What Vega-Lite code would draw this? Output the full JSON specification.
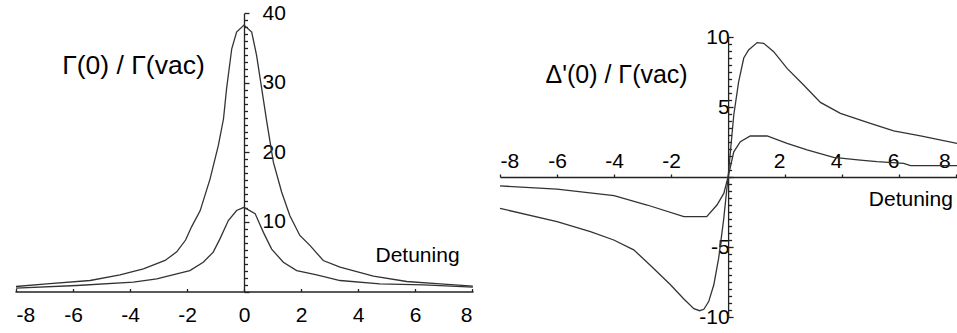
{
  "$schema": "https://vega.github.io/schema/vega-lite/v6.json",
  "width": 957,
  "height": 333,
  "padding": 0,
  "autosize": {"type": "none"},
  "background": "white",
  "config": {
    "view": {"stroke": null},
    "axis": {
      "labelFont": "Liberation Sans",
      "titleFont": "Liberation Sans",
      "labelFontSize": 21,
      "labelColor": "black",
      "titleColor": "black",
      "titleFontWeight": "normal",
      "domainColor": "#222",
      "tickColor": "#222",
      "grid": false,
      "domainWidth": 1.3,
      "tickWidth": 1.3
    }
  },
  "datasets": {
    "gamma": [
      {"s": "upper", "x": -8, "y": 0.72},
      {"s": "upper", "x": -6.92, "y": 1.1},
      {"s": "upper", "x": -5.4, "y": 1.58},
      {"s": "upper", "x": -4.35, "y": 2.4},
      {"s": "upper", "x": -3.53, "y": 3.26},
      {"s": "upper", "x": -2.77, "y": 4.46},
      {"s": "upper", "x": -2.36, "y": 5.7},
      {"s": "upper", "x": -2.05, "y": 7.4},
      {"s": "upper", "x": -1.84, "y": 9.3},
      {"s": "upper", "x": -1.54, "y": 11.6},
      {"s": "upper", "x": -1.19, "y": 16.2},
      {"s": "upper", "x": -0.9, "y": 21},
      {"s": "upper", "x": -0.72, "y": 24.8},
      {"s": "upper", "x": -0.61, "y": 29.2},
      {"s": "upper", "x": -0.43, "y": 34.9},
      {"s": "upper", "x": -0.26, "y": 37.3},
      {"s": "upper", "x": 0, "y": 38.3},
      {"s": "upper", "x": 0.27, "y": 37.3},
      {"s": "upper", "x": 0.44, "y": 34},
      {"s": "upper", "x": 0.62, "y": 29.2},
      {"s": "upper", "x": 0.8, "y": 24.4},
      {"s": "upper", "x": 1.03, "y": 18.6},
      {"s": "upper", "x": 1.32, "y": 14.3},
      {"s": "upper", "x": 1.61, "y": 10.9},
      {"s": "upper", "x": 1.96, "y": 8.06},
      {"s": "upper", "x": 2.32, "y": 6.6},
      {"s": "upper", "x": 2.78, "y": 4.46},
      {"s": "upper", "x": 3.37, "y": 3.5},
      {"s": "upper", "x": 4.54, "y": 2.2},
      {"s": "upper", "x": 5.71, "y": 1.44},
      {"s": "upper", "x": 6.88, "y": 1.1},
      {"s": "upper", "x": 8.03, "y": 0.77},
      {"s": "lower", "x": -8, "y": 0.48},
      {"s": "lower", "x": -5.87, "y": 0.86},
      {"s": "lower", "x": -3.88, "y": 1.34},
      {"s": "lower", "x": -3.06, "y": 1.83},
      {"s": "lower", "x": -2.36, "y": 2.55},
      {"s": "lower", "x": -1.9, "y": 3.0},
      {"s": "lower", "x": -1.43, "y": 4.2},
      {"s": "lower", "x": -1.08, "y": 5.66},
      {"s": "lower", "x": -0.84, "y": 7.6},
      {"s": "lower", "x": -0.55, "y": 10.2},
      {"s": "lower", "x": -0.26, "y": 11.65},
      {"s": "lower", "x": 0, "y": 12.1},
      {"s": "lower", "x": 0.39, "y": 11.2},
      {"s": "lower", "x": 0.68, "y": 8.5},
      {"s": "lower", "x": 0.97, "y": 6.1},
      {"s": "lower", "x": 1.38, "y": 4.2},
      {"s": "lower", "x": 1.85, "y": 3.0},
      {"s": "lower", "x": 2.55, "y": 2.4},
      {"s": "lower", "x": 3.37, "y": 1.58},
      {"s": "lower", "x": 4.77, "y": 1.1},
      {"s": "lower", "x": 6.29, "y": 0.96},
      {"s": "lower", "x": 8.03, "y": 0.62}
    ],
    "shift": [
      {"s": "upper", "x": -8, "y": -2.24},
      {"s": "upper", "x": -6, "y": -3.19},
      {"s": "upper", "x": -4.83, "y": -3.9},
      {"s": "upper", "x": -4.01, "y": -4.5},
      {"s": "upper", "x": -3.31, "y": -5.2},
      {"s": "upper", "x": -2.73, "y": -6.3},
      {"s": "upper", "x": -2.02, "y": -7.7},
      {"s": "upper", "x": -1.56, "y": -8.7},
      {"s": "upper", "x": -1.2, "y": -9.4},
      {"s": "upper", "x": -1.0, "y": -9.55},
      {"s": "upper", "x": -0.85, "y": -9.45},
      {"s": "upper", "x": -0.68, "y": -8.9},
      {"s": "upper", "x": -0.5, "y": -7.7},
      {"s": "upper", "x": -0.33, "y": -5.8},
      {"s": "upper", "x": -0.15, "y": -2.95},
      {"s": "upper", "x": 0, "y": 0},
      {"s": "upper", "x": 0.2, "y": 4.43},
      {"s": "upper", "x": 0.37, "y": 6.8},
      {"s": "upper", "x": 0.55, "y": 8.5},
      {"s": "upper", "x": 0.72, "y": 9.07},
      {"s": "upper", "x": 1.02, "y": 9.6},
      {"s": "upper", "x": 1.25, "y": 9.55},
      {"s": "upper", "x": 1.6, "y": 8.95},
      {"s": "upper", "x": 2.07, "y": 7.76},
      {"s": "upper", "x": 2.65, "y": 6.57},
      {"s": "upper", "x": 3.24, "y": 5.33},
      {"s": "upper", "x": 3.94, "y": 4.55},
      {"s": "upper", "x": 4.99, "y": 3.83},
      {"s": "upper", "x": 5.81, "y": 3.29},
      {"s": "upper", "x": 6.75, "y": 2.93},
      {"s": "upper", "x": 8.03, "y": 2.4},
      {"s": "lower", "x": -8, "y": -0.64},
      {"s": "lower", "x": -6, "y": -0.86},
      {"s": "lower", "x": -4, "y": -1.33},
      {"s": "lower", "x": -2.84, "y": -2.0},
      {"s": "lower", "x": -1.55, "y": -2.83},
      {"s": "lower", "x": -0.75, "y": -2.83},
      {"s": "lower", "x": -0.39, "y": -2.0},
      {"s": "lower", "x": -0.15, "y": -1.17},
      {"s": "lower", "x": 0, "y": 0},
      {"s": "lower", "x": 0.2, "y": 1.8},
      {"s": "lower", "x": 0.43, "y": 2.52},
      {"s": "lower", "x": 0.78, "y": 2.93},
      {"s": "lower", "x": 1.37, "y": 2.93},
      {"s": "lower", "x": 2.07, "y": 2.4},
      {"s": "lower", "x": 2.77, "y": 1.93},
      {"s": "lower", "x": 3.7, "y": 1.4},
      {"s": "lower", "x": 4.64, "y": 1.21},
      {"s": "lower", "x": 5.22, "y": 1.1},
      {"s": "lower", "x": 6.16, "y": 0.98},
      {"s": "lower", "x": 6.4, "y": 0.81},
      {"s": "lower", "x": 8.03, "y": 0.81}
    ]
  },
  "layer": [
    {
      "data": {"name": "gamma"},
      "mark": {"type": "line", "color": "#333", "strokeWidth": 1.3, "clip": false},
      "encoding": {
        "x": {
          "field": "x", "type": "quantitative",
          "scale": {"domain": [-8.035, 8.035], "range": [15, 473], "nice": false, "zero": false},
          "axis": {
            "orient": "bottom", "offset": -41.5,
            "values": [-8, -6, -4, -2, 0, 2, 4, 6, 8],
            "labelExpr": "'' + datum.value",
            "tickSize": -3, "labelPadding": 16,
            "title": "Detuning", "titleFontSize": 21,
            "titleX": 375, "titleY": -29.8, "titleAlign": "left", "titleBaseline": "alphabetic"
          }
        },
        "y": {
          "field": "y", "type": "quantitative",
          "scale": {"domain": [0, 40], "range": [291.5, 13.3], "nice": false, "zero": false},
          "axis": {
            "orient": "right", "offset": -713,
            "values": [0,1,2,3,4,5,6,7,8,9,10,11,12,13,14,15,16,17,18,19,20,21,22,23,24,25,26,27,28,29,30,31,32,33,34,35,36,37,38,39,40],
            "labelExpr": "datum.value % 10 === 0 && datum.value > 0 ? '' + datum.value : ''",
            "tickSize": {"condition": {"test": "datum.value % 10 === 0", "value": 5}, "value": 3.5},
            "labelPadding": 13, "labelBaseline": "middle",
            "title": "Γ(0) / Γ(vac)", "titleFontSize": 26.5, "titleAngle": 0,
            "titleX": -182.3, "titleY": 73, "titleAlign": "left", "titleBaseline": "alphabetic"
          }
        },
        "detail": {"field": "s"}
      }
    },
    {
      "data": {"name": "shift"},
      "mark": {"type": "line", "color": "#333", "strokeWidth": 1.3, "clip": false},
      "encoding": {
        "x": {
          "field": "x", "type": "quantitative",
          "scale": {"domain": [-8, 8.03], "range": [500, 957], "nice": false, "zero": false},
          "axis": {
            "orient": "top", "offset": -177,
            "values": [-8, -6, -4, -2, 2, 4, 6, 8],
            "labelExpr": "'' + datum.value",
            "labelOffset": {"condition": {"test": "datum.value > 0", "value": -6}, "value": 0},
            "tickSize": 3, "labelPadding": 3,
            "title": "Detuning", "titleFontSize": 21,
            "titleX": 868.3, "titleY": 28, "titleAlign": "left", "titleBaseline": "alphabetic"
          }
        },
        "y": {
          "field": "y", "type": "quantitative",
          "scale": {"domain": [-10, 10], "range": [317, 37], "nice": false, "zero": false},
          "axis": {
            "orient": "left", "offset": -728.1,
            "values": [-10,-9.5,-9,-8.5,-8,-7.5,-7,-6.5,-6,-5.5,-5,-4.5,-4,-3.5,-3,-2.5,-2,-1.5,-1,-0.5,0,0.5,1,1.5,2,2.5,3,3.5,4,4.5,5,5.5,6,6.5,7,7.5,8,8.5,9,9.5,10],
            "labelExpr": "datum.value % 5 === 0 && datum.value !== 0 ? '' + datum.value : ''",
            "tickSize": {"condition": {"test": "datum.value % 5 === 0", "value": -5}, "value": -3.5},
            "labelPadding": 4, "labelBaseline": "middle",
            "title": "Δ'(0) / Γ(vac)", "titleFontSize": 25, "titleAngle": 0,
            "titleX": -183.1, "titleY": 82, "titleAlign": "left", "titleBaseline": "alphabetic"
          }
        },
        "detail": {"field": "s"}
      }
    }
  ],
  "resolve": {"scale": {"x": "independent", "y": "independent"}}
}
